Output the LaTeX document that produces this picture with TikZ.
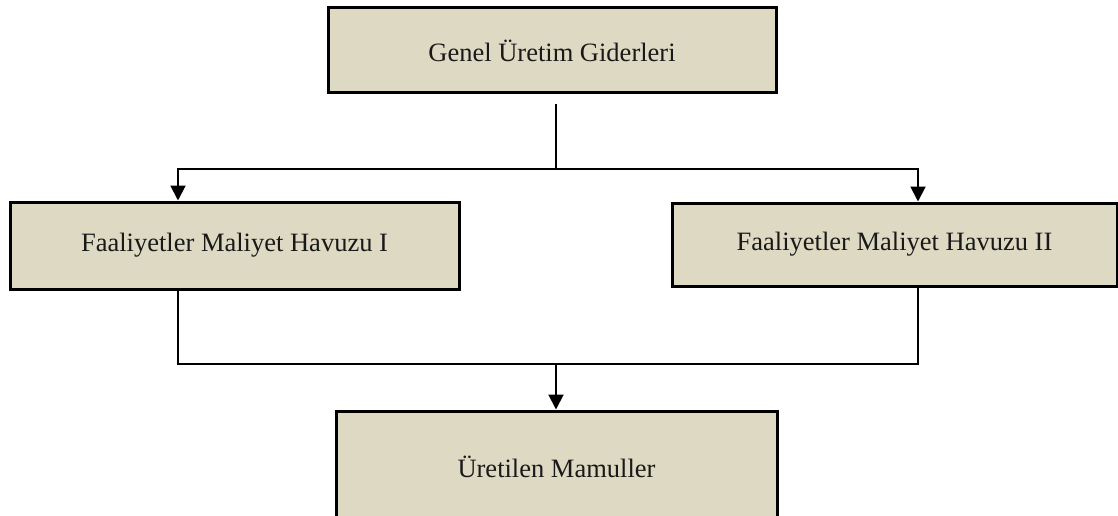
\documentclass[tikz,border=0pt]{standalone}
\usepackage{fontspec}
\setmainfont{Liberation Serif}
\usetikzlibrary{arrows.meta}
\definecolor{boxfill}{HTML}{DDD9C3}
\tikzset{
  costbox/.style={draw=black, line width=3pt, fill=boxfill, inner sep=0pt,
    font=\fontsize{26.5}{30}\selectfont, text=black!90},
  link/.style={draw=black, line width=2pt},
  arr/.style={link, -{Triangle[length=15pt,width=15pt]}}
}
\begin{document}
\begin{tikzpicture}[x=1pt,y=-1pt]
  \useasboundingbox (0,0) rectangle (1118,516);
  \clip (0,0) rectangle (1118,516);
  % cost boxes
  \node[costbox, minimum width=448pt, minimum height=85pt] (top) at (552,50.5) {Genel Üretim Giderleri};
  \node[costbox, minimum width=449pt, minimum height=87pt] (p1) at (234.5,245.5) {Faaliyetler Maliyet Havuzu I};
  \node[costbox, minimum width=445pt, minimum height=83pt] (p2) at (894.5,244.5) {Faaliyetler Maliyet Havuzu II};
  \node[costbox, minimum width=441pt, minimum height=112pt] (out) at (556.5,467) {Üretilen Mamuller};
  % junction points and branch columns
  \coordinate (split) at (556,169);
  \coordinate (merge) at (556,364);
  \coordinate (xl) at (178,0);
  \coordinate (xr) at (918,0);
  % distribution to the activity pools
  \draw[link] (split |- 0,104) -- (split);
  \draw[arr] (split) -| (xl |- p1.north);
  \draw[arr] (split) -| (xr |- p2.north);
  % collection into the products
  \draw[link] (xl |- p1.south) |- (merge);
  \draw[link] (xr |- p2.south) |- (merge);
  \draw[arr] (merge) -- (merge |- out.north);
\end{tikzpicture}
\end{document}
